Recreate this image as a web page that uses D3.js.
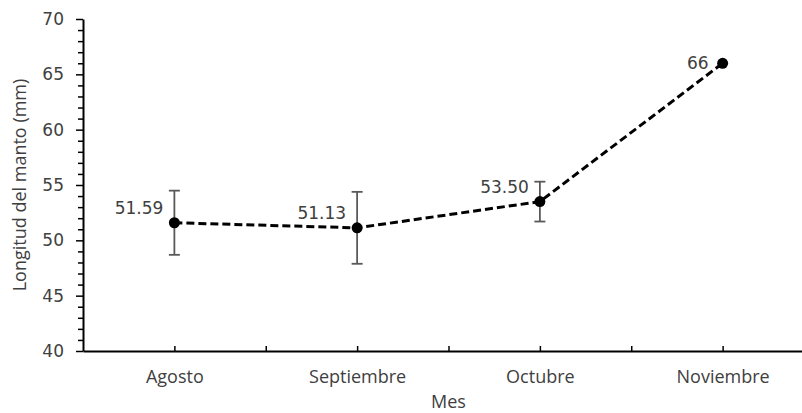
<!DOCTYPE html>
<html>
<head>
<meta charset="utf-8">
<script src="https://cdn.jsdelivr.net/npm/d3@7"></script>
<style>
  body { margin: 0; background: #fff; }
  svg { display: block; }
</style>
</head>
<body>
<div id="chart"></div>
<script>
// Chart data
const months = ["Agosto", "Septiembre", "Octubre", "Noviembre"];
const meanLength = [51.59, 51.13, 53.50, 66];
const errLength = [2.9, 3.25, 1.8, 0];
const meanLabels = ["51.59", "51.13", "53.50", "66"];
const yTicks = [40, 45, 50, 55, 60, 65, 70];

const width = 802, height = 413;
const margin = { top: 19, right: -12, bottom: 62, left: 83 };

const svg = d3.select("#chart")
  .append("svg")
  .attr("width", width)
  .attr("height", height);

const data = months.map((m, i) => ({
  month: m,
  idx: i + 1,
  mean: meanLength[i],
  err: errLength[i],
  label: meanLabels[i]
}));

// Scales
const xScale = d3.scaleLinear()
  .domain([0.5, months.length + 0.5])
  .range([margin.left, width - margin.right]);

const yScale = d3.scaleLinear()
  .domain([40, 70])
  .range([height - margin.bottom, margin.top]);

const textColor = "#404040";

// y minor ticks
const minorTicks = d3.range(40, 71).filter(v => v % 5 !== 0);
svg.append("g")
  .attr("transform", `translate(${margin.left}, 0)`)
  .call(d3.axisLeft(yScale).tickValues(minorTicks).tickSize(5).tickFormat(""))
  .call(g => g.select(".domain").remove())
  .call(g => g.selectAll("line").attr("stroke", "#000").attr("stroke-width", 1.5));

// y axis
svg.append("g")
  .attr("transform", `translate(${margin.left}, 0)`)
  .call(d3.axisLeft(yScale).tickValues(yTicks).tickSize(7).tickSizeOuter(0).tickPadding(12))
  .call(g => g.select(".domain").attr("stroke", "#000").attr("stroke-width", 2))
  .call(g => g.selectAll("line").attr("stroke", "#000").attr("stroke-width", 1.5))
  .call(g => g.selectAll("text")
    .attr("fill", textColor)
    .style("font-family", "'DejaVu Sans', Verdana, sans-serif")
    .style("font-size", "17px"));

// x axis: inward ticks every half step, labels on the months
const xTickVals = d3.range(1, months.length + 0.01, 0.5);
svg.append("g")
  .attr("transform", `translate(0, ${height - margin.bottom})`)
  .call(d3.axisBottom(xScale).tickValues(xTickVals).tickSize(-5).tickSizeOuter(0).tickPadding(19)
    .tickFormat(v => Number.isInteger(v) ? months[v - 1] : ""))
  .call(g => g.select(".domain").attr("stroke", "#000").attr("stroke-width", 2))
  .call(g => g.selectAll("line").attr("stroke", "#000").attr("stroke-width", 1.5))
  .call(g => g.selectAll("text")
    .attr("fill", textColor)
    .style("font-family", "'Open Sans', sans-serif")
    .style("font-size", "18px"));

// Axis titles
svg.append("text")
  .attr("x", (xScale.range()[0] + xScale.range()[1]) / 2)
  .attr("y", 408)
  .attr("text-anchor", "middle")
  .attr("fill", textColor)
  .style("font-family", "'Open Sans', sans-serif")
  .style("font-size", "18px")
  .text("Mes");

svg.append("text")
  .attr("transform", "rotate(-90)")
  .attr("x", -(yScale.range()[0] + yScale.range()[1]) / 2)
  .attr("y", 26)
  .attr("text-anchor", "middle")
  .attr("fill", textColor)
  .style("font-family", "'Open Sans', sans-serif")
  .style("font-size", "18px")
  .text("Longitud del manto (mm)");

// Error bars
const capW = 5.5;
const bars = svg.append("g")
  .attr("stroke", "#595959")
  .attr("stroke-width", 1.8);

data.filter(d => d.err > 0).forEach(d => {
  const x = xScale(d.idx);
  const y1 = yScale(d.mean + d.err), y2 = yScale(d.mean - d.err);
  bars.append("line").attr("x1", x).attr("x2", x).attr("y1", y1).attr("y2", y2);
  bars.append("line").attr("x1", x - capW).attr("x2", x + capW).attr("y1", y1).attr("y2", y1);
  bars.append("line").attr("x1", x - capW).attr("x2", x + capW).attr("y1", y2).attr("y2", y2);
});

// Dashed line
const line = d3.line()
  .x(d => xScale(d.idx))
  .y(d => yScale(d.mean));

svg.append("path")
  .datum(data)
  .attr("fill", "none")
  .attr("stroke", "#000")
  .attr("stroke-width", 3)
  .attr("stroke-dasharray", "8,4")
  .attr("d", line);

// Markers
svg.selectAll("circle.pt")
  .data(data)
  .enter().append("circle")
  .attr("class", "pt")
  .attr("cx", d => xScale(d.idx))
  .attr("cy", d => yScale(d.mean))
  .attr("r", 5.5)
  .attr("fill", "#000");

// Data labels (above-left when there is an error bar, left otherwise)
svg.selectAll("text.lbl")
  .data(data)
  .enter().append("text")
  .attr("class", "lbl")
  .attr("x", d => xScale(d.idx) - (d.err > 0 ? 11 : 14))
  .attr("y", d => yScale(d.mean) + (d.err > 0 ? -9 : 6))
  .attr("text-anchor", "end")
  .attr("fill", textColor)
  .style("font-family", "'DejaVu Sans', Verdana, sans-serif")
  .style("font-size", "17px")
  .text(d => d.label);
</script>
</body>
</html>
